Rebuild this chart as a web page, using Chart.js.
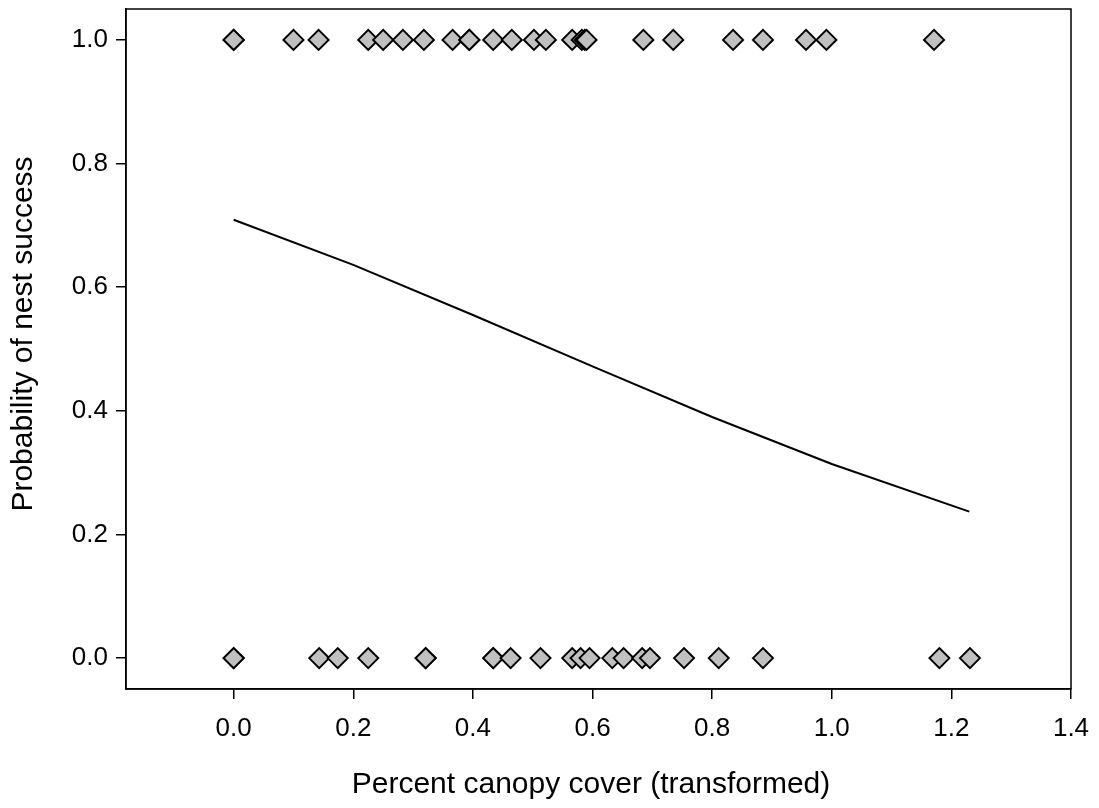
<!DOCTYPE html>
<html>
<head>
<meta charset="utf-8">
<title>Probability of nest success</title>
<script src="https://cdn.jsdelivr.net/npm/chart.js@4/dist/chart.umd.min.js"></script>
<style>
  html, body { margin: 0; padding: 0; background: #fff; }
  #chart { display: block; }
</style>
</head>
<body>
<canvas id="chart" width="1099" height="808"></canvas>
<script>
// canopy cover of successful nests (plotted at 1.0)
const successX = [0.0, 0.0, 0.100, 0.142, 0.225, 0.250, 0.283, 0.318, 0.366, 0.394, 0.394,
    0.434, 0.465, 0.502, 0.522, 0.566, 0.582, 0.587, 0.590, 0.685, 0.735, 0.835, 0.885,
    0.957, 0.991, 1.171];
// canopy cover of failed nests (plotted at 0.0)
const failX = [0.0, 0.0, 0.143, 0.174, 0.225, 0.321, 0.321, 0.434, 0.434, 0.463, 0.513,
    0.566, 0.580, 0.595, 0.633, 0.652, 0.683, 0.696, 0.753, 0.811, 0.885, 1.180, 1.231];

// fitted curve
const fitX = [0.0, 0.2, 0.4, 0.6, 0.8, 1.0, 1.23];
const fitY = [0.709, 0.636, 0.555, 0.472, 0.390, 0.314, 0.237];

const xTicks = [0.0, 0.2, 0.4, 0.6, 0.8, 1.0, 1.2, 1.4];
const yTicks = [0.0, 0.2, 0.4, 0.6, 0.8, 1.0];

const xTitle = 'Percent canopy cover (transformed)';
const yTitle = 'Probability of nest success';

const FONT = 'Liberation Sans, Arial, Helvetica, sans-serif';

// box round the plot + axis titles
const frame = {
    id: 'frame',
    afterDatasetsDraw(chart) {
        const { ctx, chartArea: a } = chart;
        ctx.save();
        ctx.strokeStyle = '#000';
        ctx.lineWidth = 1.5;
        ctx.strokeRect(a.left, a.top, a.right - a.left, a.bottom - a.top);

        ctx.fillStyle = '#000';
        ctx.font = '30px ' + FONT;
        ctx.textAlign = 'center';
        ctx.textBaseline = 'middle';
        ctx.fillText(xTitle, 591, 785);

        ctx.translate(24, 334);
        ctx.rotate(-Math.PI / 2);
        ctx.fillText(yTitle, 0, 0);
        ctx.restore();
    }
};

const axisStyle = {
    border: { display: true, color: '#000', width: 1.5 },
    grid: { display: true, drawOnChartArea: false, drawTicks: true, tickLength: 10, color: '#000', lineWidth: 1.5 },
};

const ctx = document.getElementById('chart').getContext('2d');
new Chart(ctx, {
    type: 'scatter',
    data: {
        datasets: [
            {
                label: 'Fit',
                type: 'line',
                data: fitX.map((x, i) => ({ x: x, y: fitY[i] })),
                borderColor: '#000',
                borderWidth: 2,
                pointRadius: 0,
                fill: false,
                tension: 0
            },
            {
                label: 'Successful',
                data: successX.map(x => ({ x: x, y: 1 })),
                pointStyle: 'rectRot',
                pointRadius: 10,
                backgroundColor: '#c0c0c0',
                borderColor: '#000',
                borderWidth: 2
            },
            {
                label: 'Failed',
                data: failX.map(x => ({ x: x, y: 0 })),
                pointStyle: 'rectRot',
                pointRadius: 10,
                backgroundColor: '#c0c0c0',
                borderColor: '#000',
                borderWidth: 2
            }
        ]
    },
    options: {
        responsive: false,
        animation: false,
        layout: { autoPadding: false, padding: { top: 9, right: 28, left: 0, bottom: 0 } },
        plugins: {
            legend: { display: false },
            tooltip: { enabled: false }
        },
        scales: {
            x: {
                type: 'linear',
                min: -0.18,
                max: 1.4,
                ...axisStyle,
                afterBuildTicks: axis => { axis.ticks = xTicks.map(v => ({ value: v })); },
                afterFit: axis => {
                    axis.height = 119;
                    axis.paddingLeft = 0;
                    axis.paddingRight = 0;
                },
                ticks: {
                    color: '#000',
                    padding: 14,
                    maxRotation: 0,
                    font: { family: FONT, size: 26 },
                    callback: v => v.toFixed(1)
                }
            },
            y: {
                type: 'linear',
                min: -0.05,
                max: 1.05,
                ...axisStyle,
                afterBuildTicks: axis => { axis.ticks = yTicks.map(v => ({ value: v })); },
                afterFit: axis => {
                    axis.width = 126;
                    axis.paddingTop = 0;
                    axis.paddingBottom = 0;
                },
                ticks: {
                    color: '#000',
                    padding: 8,
                    font: { family: FONT, size: 26 },
                    callback: v => v.toFixed(1)
                }
            }
        }
    },
    plugins: [frame]
});
</script>
</body>
</html>
